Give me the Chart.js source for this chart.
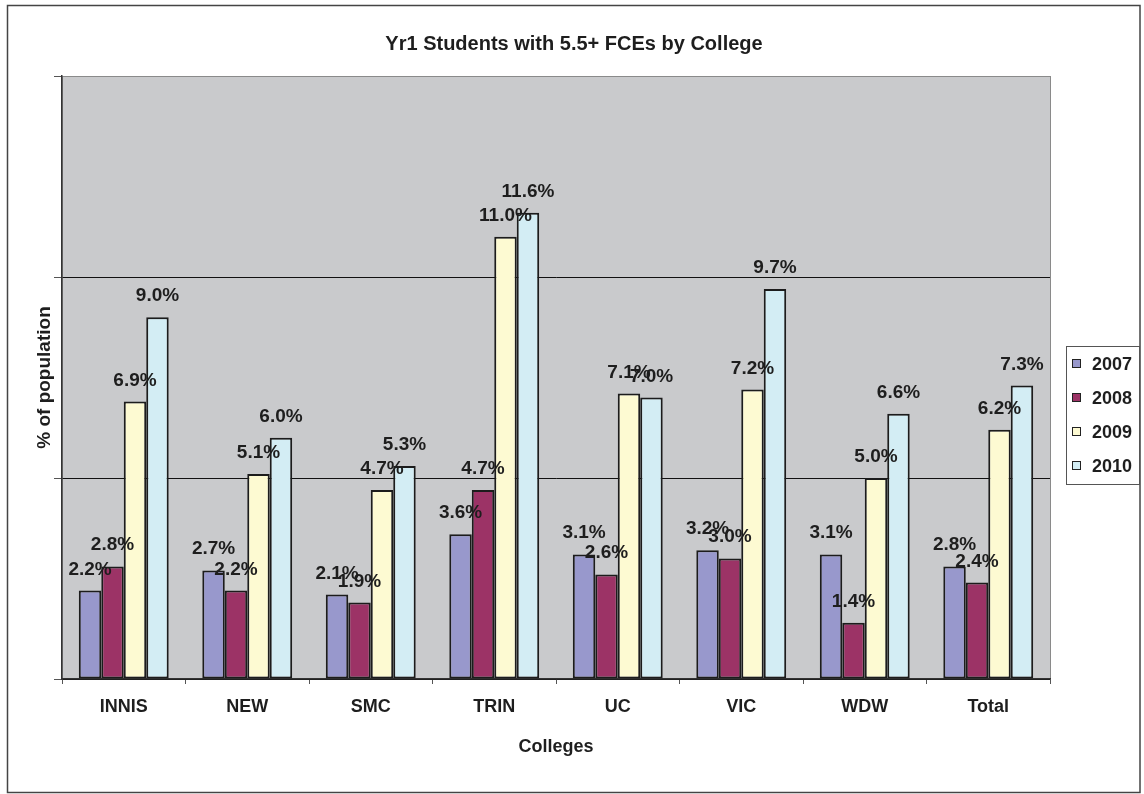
<!DOCTYPE html>
<html>
<head>
<meta charset="utf-8">
<script src="https://cdn.jsdelivr.net/npm/chart.js@4"></script>
<style>
  body { margin: 0; background: #fff; }
</style>
</head>
<body>
<canvas id="fceChart" width="1144" height="794"></canvas>
<script>
// data
const colleges = ["INNIS", "NEW", "SMC", "TRIN", "UC", "VIC", "WDW", "Total"];
const years = ["2007", "2008", "2009", "2010"];
const y2007 = [2.2, 2.7, 2.1, 3.6, 3.1, 3.2, 3.1, 2.8];
const y2008 = [2.8, 2.2, 1.9, 4.7, 2.6, 3.0, 1.4, 2.4];
const y2009 = [6.9, 5.1, 4.7, 11.0, 7.1, 7.2, 5.0, 6.2];
const y2010 = [9.0, 6.0, 5.3, 11.6, 7.0, 9.7, 6.6, 7.3];
const yTicks = [0, 5, 10, 15];

const colors = ["#9898CC", "#9C3366", "#FDFAD2", "#D3EDF4"];
const FONT = "Arial, 'Liberation Sans', sans-serif";

// white page, outer border, gray plot area
const background = {
  id: "background",
  beforeDraw(chart) {
    const { ctx, chartArea: a } = chart;
    ctx.save();
    ctx.fillStyle = "#fff";
    ctx.fillRect(0, 0, chart.width, chart.height);
    ctx.strokeStyle = "#444";
    ctx.lineWidth = 1.5;
    ctx.strokeRect(7.5, 5.5, 1132.5, 787);
    ctx.fillStyle = "#C9CACC";
    ctx.fillRect(a.left, a.top, a.right - a.left, a.bottom - a.top);
    ctx.strokeStyle = "#8a8a8a";
    ctx.lineWidth = 1;
    ctx.strokeRect(a.left + 0.5, a.top + 0.5, a.right - a.left, a.bottom - a.top);
    ctx.restore();
  }
};

// titles, data labels and legend box
const texts = {
  id: "texts",
  afterDraw(chart) {
    const { ctx, chartArea: a } = chart;
    ctx.save();
    ctx.fillStyle = "#1e1e1e";
    ctx.textAlign = "center";
    ctx.textBaseline = "alphabetic";

    ctx.font = "bold 20px " + FONT;
    ctx.fillText("Yr1 Students with 5.5+ FCEs by College", 574, 50);

    ctx.font = "bold 18px " + FONT;
    ctx.fillText("Colleges", (a.left + a.right) / 2, 752);

    ctx.save();
    ctx.translate(50, (a.top + a.bottom) / 2);
    ctx.rotate(-Math.PI / 2);
    ctx.font = "bold 19px " + FONT;
    ctx.fillText("% of population", 0, 0);
    ctx.restore();

    // data labels
    ctx.font = "bold 19px " + FONT;
    chart.data.datasets.forEach((ds, i) => {
      chart.getDatasetMeta(i).data.forEach((bar, j) => {
        ctx.fillText(ds.data[j].toFixed(1) + "%", bar.x, bar.y - 16);
      });
    });

    // legend
    const lx = 1066, ly = 346, lw = 73, lh = 138;
    ctx.fillStyle = "#fff";
    ctx.fillRect(lx, ly, lw, lh);
    ctx.strokeStyle = "#555";
    ctx.lineWidth = 1;
    ctx.strokeRect(lx + 0.5, ly + 0.5, lw, lh);
    ctx.textAlign = "left";
    ctx.font = "bold 18px " + FONT;
    chart.data.datasets.forEach((ds, i) => {
      const base = 370 + i * 34;
      ctx.fillStyle = ds.backgroundColor;
      ctx.fillRect(1072, base - 11, 9, 9);
      ctx.strokeStyle = "#222";
      ctx.strokeRect(1072.5, base - 10.5, 8, 8);
      ctx.fillStyle = "#1e1e1e";
      ctx.fillText(ds.label, 1092, base);
    });
    ctx.restore();
  }
};

const series = [y2007, y2008, y2009, y2010];

new Chart(document.getElementById("fceChart"), {
  type: "bar",
  data: {
    labels: colleges,
    datasets: years.map((yr, i) => ({
      label: yr,
      data: series[i],
      backgroundColor: colors[i],
      borderColor: "#1c1c1c",
      borderWidth: 2,
      borderSkipped: false,
      categoryPercentage: 0.728,
      barPercentage: 1.0
    }))
  },
  options: {
    responsive: false,
    animation: false,
    layout: { padding: { left: 0, right: 94, top: 76, bottom: 0 } },
    plugins: {
      legend: { display: false },
      title: { display: false },
      tooltip: { enabled: false }
    },
    scales: {
      x: {
        afterFit(scale) { scale.height = 115; },
        grid: {
          offset: true,
          drawOnChartArea: false,
          drawTicks: true,
          tickLength: 5,
          tickColor: "#555"
        },
        border: { color: "#333", width: 1.5 },
        ticks: {
          color: "#1e1e1e",
          padding: 12,
          font: { family: FONT, size: 18, weight: "bold" }
        }
      },
      y: {
        min: 0,
        max: 15,
        afterFit(scale) { scale.width = 62; },
        afterBuildTicks(scale) { scale.ticks = yTicks.map(v => ({ value: v })); },
        ticks: { display: false },
        grid: {
          color: ctx => (ctx.tick && ctx.tick.value === 15 ? "#8a8a8a" : "#111"),
          lineWidth: 1,
          drawTicks: true,
          tickLength: 8,
          tickColor: "#555"
        },
        border: { color: "#333", width: 1.5 }
      }
    }
  },
  plugins: [background, texts]
});
</script>
</body>
</html>
